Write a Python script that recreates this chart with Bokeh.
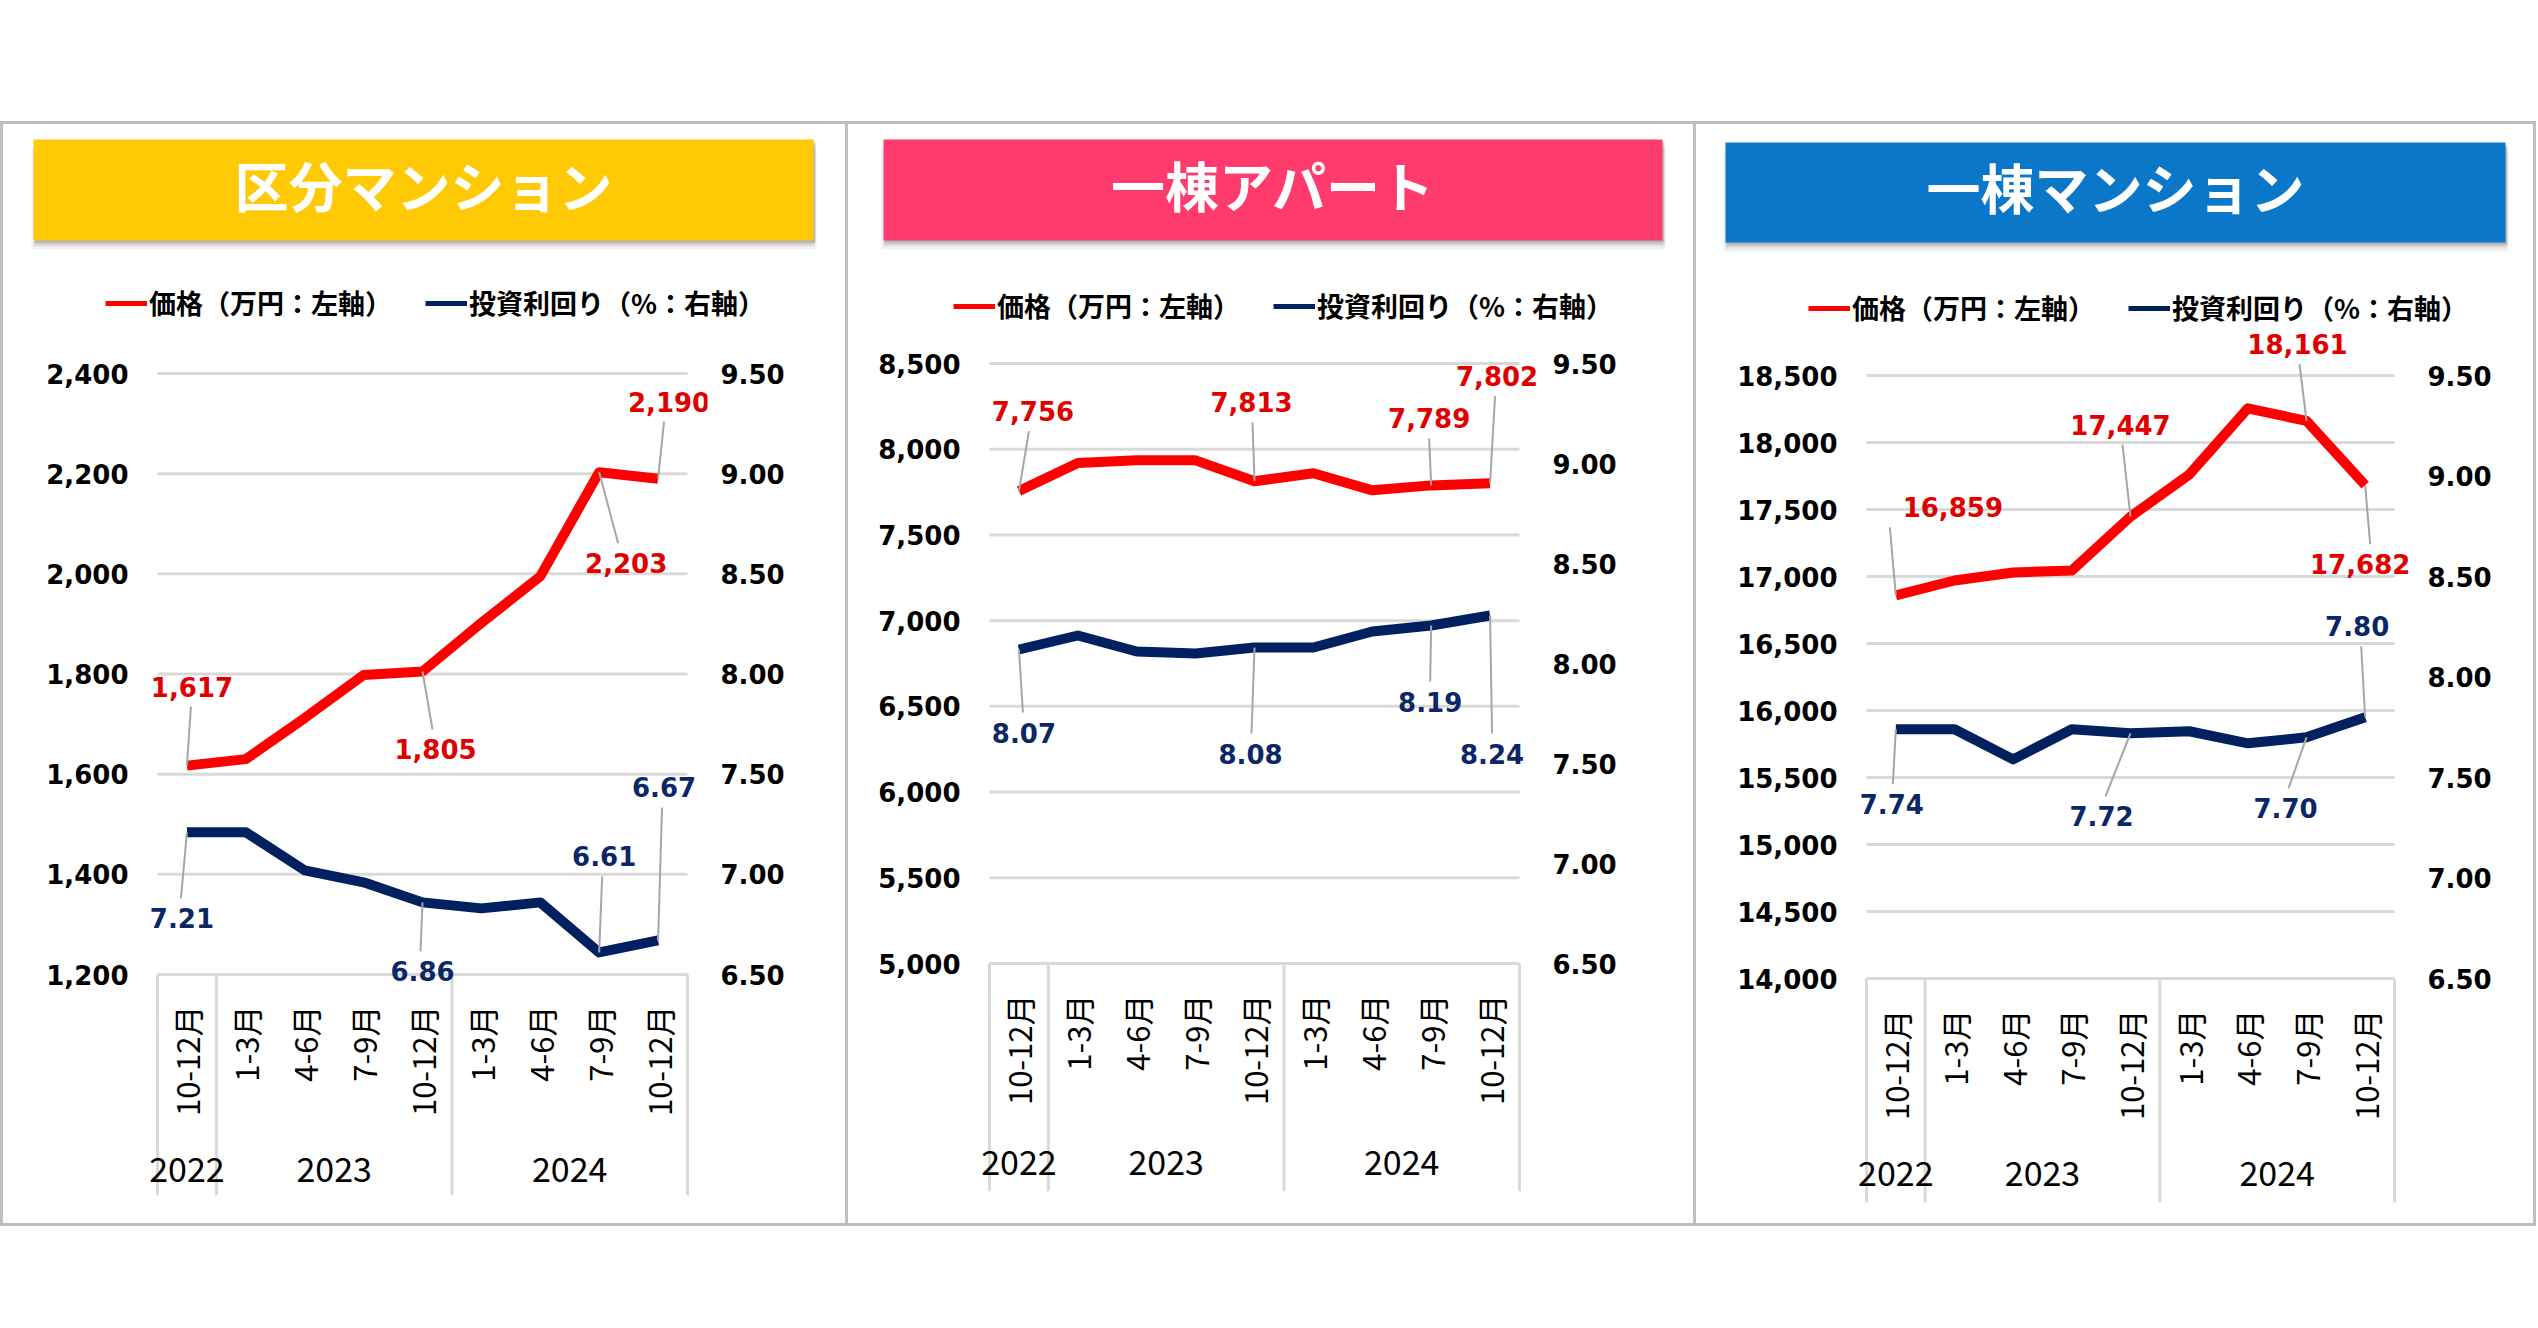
import math
from bokeh.plotting import figure
from bokeh.layouts import row, column
from bokeh.models import (Range1d, LinearAxis, FactorRange, FixedTicker, NumeralTickFormatter,
                          ColumnDataSource, Legend, LegendItem, Spacer, Plot)
from bokeh.core.properties import value
from bokeh.embed import file_html
from bokeh.resources import INLINE

# ---------------- data ----------------
years = ["2022", "2023", "2023", "2023", "2023", "2024", "2024", "2024", "2024"]
quarters = ["10-12月", "1-3月", "4-6月", "7-9月", "10-12月", "1-3月", "4-6月", "7-9月", "10-12月"]

titles = ["区分マンション", "一棟アパート", "一棟マンション"]
legend_labels = ["価格（万円：左軸）", "投資利回り（%：右軸）"]

price_kubun = [1617, 1630, 1712, 1798, 1805, 1902, 1995, 2203, 2190]
yield_kubun = [7.21, 7.21, 7.02, 6.96, 6.86, 6.83, 6.86, 6.61, 6.67]

price_apart = [7756, 7920, 7935, 7935, 7813, 7860, 7760, 7789, 7802]
yield_apart = [8.07, 8.14, 8.06, 8.05, 8.08, 8.08, 8.16, 8.19, 8.24]

price_mansion = [16859, 16970, 17030, 17045, 17447, 17760, 18255, 18161, 17682]
yield_mansion = [7.74, 7.74, 7.59, 7.74, 7.72, 7.73, 7.67, 7.70, 7.80]

price_ticks_kubun = [1200, 1400, 1600, 1800, 2000, 2200, 2400]
price_ticks_apart = [5000, 5500, 6000, 6500, 7000, 7500, 8000, 8500]
price_ticks_mansion = [14000, 14500, 15000, 15500, 16000, 16500, 17000, 17500, 18000, 18500]
yield_ticks = [6.5, 7.0, 7.5, 8.0, 8.5, 9.0, 9.5]

labelled_points = [0, 4, 7, 8]

prices = [price_kubun, price_apart, price_mansion]
yields = [yield_kubun, yield_apart, yield_mansion]
price_ticks = [price_ticks_kubun, price_ticks_apart, price_ticks_mansion]

# ---------------- styles / layout (page pixel coordinates) ----------------
RED = "#FF0000"
NAVY = "#002060"
RED_TXT = "#E00000"
NAVY_TXT = "#0B2765"
GRID_C = "#D9D9D9"
BORDER_C = "#BFBFBF"
LEADER_C = "#A6A6A6"
NUM_FONT = "DejaVu Sans"
JP_FONT = "Noto Sans CJK JP"
PANEL_TOP, PANEL_BOTTOM = 124, 1223
TOP_SPACE = 121
LINE_W = 3
PAD_X = 20
SHADOW = [(-2, 9, 0.05), (0, 6, 0.07), (1, 4, 0.09), (1, 2, 0.12)]

NO_ALIGN = {"frame_align": False} if "frame_align" in Plot.properties() else {}

PANELS = [
    dict(x0=3, w=842, chart=(157, 373, 687, 974), pad_t=22, div_bottom=1195, year_y=1169,
         banner=(33, 139, 813, 240), banner_color="#FFCA05", legend=(105, 304),
         price_pos=[(5, -79, 4), (13, 78, 10), (27, 91, 19), (11, -77, 6)],
         yield_pos=[(-5, 86, -6), (0, 69, -2), (5, -96, 3), (6, -153, 4)]),
    dict(x0=848, w=845, chart=(989, 363, 1519, 963), pad_t=22, div_bottom=1191, year_y=1162,
         banner=(883, 139, 1662, 240), banner_color="#FF3B6E", legend=(953, 307),
         price_pos=[(14, -80, 10), (-3, -79, -2), (-2, -67, -2), (7, -107, 5)],
         yield_pos=[(5, 83, 4), (-4, 106, -3), (-1, 76, -1), (2, 138, 2)]),
    dict(x0=1696, w=837, chart=(1866, 375, 2394, 978), pad_t=45, div_bottom=1202, year_y=1173,
         banner=(1725, 142, 2505, 242), banner_color="#0A77C8", legend=(1808, 309),
         price_pos=[(57, -88, -6), (-10, -92, -8), (-9, -77, -7), (-5, 79, 5)],
         yield_pos=[(-4, 75, -3), (-29, 83, -25), (-21, 71, -18), (-8, -91, -4)]),
]


def header(k):
    L = PANELS[k]
    X0, W = L["x0"], L["w"]
    H = (L["chart"][1] - L["pad_t"]) - PANEL_TOP
    h = figure(width=W, height=H, x_range=Range1d(0, W), y_range=Range1d(H, 0),
               output_backend="svg", toolbar_location=None, title=None,
               x_axis_location=None, y_axis_location=None, min_border=0,
               outline_line_color=None, background_fill_color="white",
               border_fill_color="white", **NO_ALIGN)
    h.grid.visible = False
    bl, bt, br, bb = L["banner"]
    bl, br, bt, bb = bl - X0, br - X0, bt - PANEL_TOP, bb - PANEL_TOP
    for ox, oy, a in SHADOW:
        h.quad(left=bl + ox, right=br + abs(ox) + 1, top=bt + oy, bottom=bb + oy,
               fill_color="black", fill_alpha=a, line_color=None)
    h.quad(left=bl, right=br, top=bt, bottom=bb, fill_color=L["banner_color"], line_color=None)
    h.text(x=[(bl + br) / 2], y=[(bt + bb) / 2 - 6], text=[titles[k]],
           text_align=value("center"), text_baseline=value("middle"),
           text_font=value(JP_FONT), text_font_style=value("bold"),
           text_font_size=value("54px"), text_color="white")

    # legend proxies (a single point each: nothing visible is drawn in the header)
    r_proxy = h.line(x=[0], y=[0], line_color=RED, line_width=5)
    b_proxy = h.line(x=[0], y=[0], line_color=NAVY, line_width=5)
    lx, lyc = L["legend"]
    lh = 36
    top = lyc - PANEL_TOP - lh / 2
    legend = Legend(items=[LegendItem(label=legend_labels[0], renderers=[r_proxy]),
                           LegendItem(label=legend_labels[1], renderers=[b_proxy])],
                    orientation="horizontal", location=(lx - X0, H - top - lh),
                    glyph_width=42, glyph_height=lh, label_height=lh, label_standoff=2,
                    spacing=33, padding=0, margin=0, border_line_color=None,
                    background_fill_alpha=0, label_text_font=JP_FONT,
                    label_text_font_style="bold", label_text_font_size="27px",
                    label_text_color="black")
    h.add_layout(legend, "center")
    return h


def chart(k):
    L = PANELS[k]
    price, yld, pticks = prices[k], yields[k], price_ticks[k]
    X0, W = L["x0"], L["w"]
    cl, ct, cr, cb = L["chart"]
    pad_t = L["pad_t"]
    top = ct - pad_t
    H = PANEL_BOTTOM - top
    fl, fr, fbot = cl - PAD_X, cr + PAD_X, L["div_bottom"]
    n = len(quarters)
    cell = (cr - cl) / n
    factors = list(zip(years, quarters))
    pmin, pmax = pticks[0], pticks[-1]
    ymin, ymax = yield_ticks[0], yield_ticks[-1]
    ppu = (cb - ct) / (pmax - pmin)
    ypu = (cb - ct) / (ymax - ymin)

    xr = FactorRange(factors=factors, factor_padding=0, group_padding=0, subgroup_padding=0,
                     range_padding=PAD_X / cell, range_padding_units="absolute")
    yr = Range1d(pmin - (fbot - cb) / ppu, pmax + pad_t / ppu)
    p = figure(width=W, height=H, x_range=xr, y_range=yr, output_backend="svg",
               toolbar_location=None, title=None, x_axis_location=None, y_axis_location=None,
               min_border_left=fl - X0, min_border_right=X0 + W - fr,
               min_border_top=0, min_border_bottom=PANEL_BOTTOM - fbot,
               outline_line_color=None, background_fill_color="white",
               border_fill_color="white", **NO_ALIGN)
    p.grid.visible = False
    p.extra_y_ranges = {"yield": Range1d(ymin - (fbot - cb) / ypu, ymax + pad_t / ypu)}

    # horizontal gridlines across the category area
    f_first = factors[0] + (-0.5,)
    f_last = factors[-1] + (0.5,)
    p.segment(x0=[f_first] * len(pticks), x1=[f_last] * len(pticks), y0=pticks, y1=pticks,
              line_color=GRID_C, line_width=3)

    # category-axis dividers (at year-group boundaries)
    starts = [i for i in range(n) if i == 0 or years[i] != years[i - 1]]
    dx_ = [factors[i] + (-0.5,) for i in starts] + [f_last]
    p.segment(x0=dx_, x1=dx_, y0=[pmin] * len(dx_), y1=[yr.start] * len(dx_),
              line_color=GRID_C, line_width=3)

    # category labels and year labels
    p.text(x=factors, y=[pmin] * n, text=quarters, angle=math.pi / 2, y_offset=31,
           text_align=value("right"), text_baseline=value("middle"),
           text_font=value(JP_FONT), text_font_size=value("31px"), text_color="black")
    year_groups = list(dict.fromkeys(years))
    p.text(x=year_groups, y=[pmin] * len(year_groups), text=year_groups,
           y_offset=L["year_y"] - cb, text_align=value("center"), text_baseline=value("middle"),
           text_font=value(JP_FONT), text_font_size=value("34px"), text_color="black")

    # axes
    common = dict(axis_line_color=None, major_tick_line_color=None, minor_tick_line_color=None,
                  major_tick_out=0, major_tick_in=0, major_label_text_font=NUM_FONT,
                  major_label_text_font_style="bold", major_label_text_font_size="26px",
                  major_label_text_color="black")
    p.add_layout(LinearAxis(ticker=FixedTicker(ticks=pticks),
                            formatter=NumeralTickFormatter(format="0,0"),
                            major_label_standoff=9, **common), "left")
    p.add_layout(LinearAxis(y_range_name="yield", ticker=FixedTicker(ticks=yield_ticks),
                            formatter=NumeralTickFormatter(format="0.00"),
                            major_label_standoff=13, **common), "right")

    # series
    p.line(x=factors, y=price, line_color=RED, line_width=10, line_join="round")
    p.line(x=factors, y=yld, line_color=NAVY, line_width=10, line_join="round",
           y_range_name="yield")

    # leader lines and data labels
    for vals, pos, pu, rng, color, fmt in [
            (price, L["price_pos"], ppu, "default", RED_TXT, "{:,}"),
            (yld, L["yield_pos"], ypu, "yield", NAVY_TXT, "{:.2f}")]:
        idx = labelled_points
        lsrc = ColumnDataSource(dict(
            x0=[factors[i] for i in idx], y0=[vals[i] for i in idx],
            x1=[factors[i] + (d[2] / cell,) for i, d in zip(idx, pos)],
            y1=[vals[i] - (d[1] - math.copysign(20, d[1])) / pu for i, d in zip(idx, pos)]))
        p.segment(x0="x0", y0="y0", x1="x1", y1="y1", source=lsrc, line_color=LEADER_C,
                  line_width=2, y_range_name=rng)
        tsrc = ColumnDataSource(dict(
            x=[factors[i] for i in idx], y=[vals[i] for i in idx],
            t=[fmt.format(vals[i]) for i in idx],
            dx=[d[0] for d in pos], dy=[d[1] for d in pos]))
        p.text(x="x", y="y", text="t", x_offset="dx", y_offset="dy", source=tsrc,
               y_range_name=rng, text_align=value("center"), text_baseline=value("middle"),
               text_font=value(NUM_FONT), text_font_style=value("bold"),
               text_font_size=value("26px"), text_color=color)
    return p


def vline():
    return Spacer(width=LINE_W, height=PANEL_BOTTOM - PANEL_TOP,
                  styles={"background-color": BORDER_C})


total_w = LINE_W * 4 + sum(L["w"] for L in PANELS)
panels = [column(header(k), chart(k)) for k in range(3)]
body = row(vline(), panels[0], vline(), panels[1], vline(), panels[2], vline())
page = column(Spacer(width=total_w, height=TOP_SPACE),
              Spacer(width=total_w, height=LINE_W, styles={"background-color": BORDER_C}),
              body,
              Spacer(width=total_w, height=LINE_W, styles={"background-color": BORDER_C}))
open("out.html", "w").write(file_html(page, INLINE))
